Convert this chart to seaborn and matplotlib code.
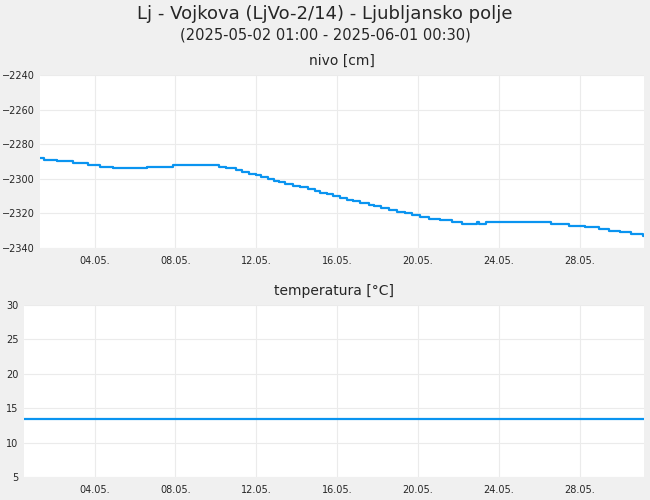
import matplotlib
matplotlib.use("Agg")
import matplotlib.pyplot as plt
import seaborn as sns
import pandas as pd

# step positions (pixel-like units along the time axis), and levels in cm
step_pos = [96, 105, 138, 177, 213, 242, 273, 355, 418, 528, 546, 568, 584, 600, 618, 630, 646, 660,
            673, 688, 706, 723, 742, 760, 771, 789, 804, 820, 836, 852, 869, 889, 902, 920, 938, 958,
            976, 994, 1014, 1034, 1060, 1090, 1114, 1150, 1154, 1172, 1328, 1373, 1410, 1445, 1468,
            1496, 1522, 1550, 1553]
nivo = [-2288, -2289, -2290, -2291, -2292, -2293, -2294, -2293, -2292, -2293, -2294, -2295, -2296,
        -2297, -2298, -2299, -2300, -2301, -2302, -2303, -2304, -2305, -2306, -2307, -2308, -2309,
        -2310, -2311, -2312, -2313, -2314, -2315, -2316, -2317, -2318, -2319, -2320, -2321, -2322,
        -2323, -2324, -2325, -2326, -2325, -2326, -2325, -2326, -2327, -2328, -2329, -2330, -2331,
        -2332, -2333, -2333]
temp_pos = [58, 1553]
temperatura = [13.5, 13.5]
tick_labels = ["04.05.", "08.05.", "12.05.", "16.05.", "20.05.", "24.05.", "28.05."]
tick_pos = [228, 423, 618, 813, 1008, 1203, 1398]

BG = "#f0f0f0"
LINE = "#0a94f0"
sns.set_style("white")
fig = plt.figure(figsize=(6.5, 5), dpi=100, facecolor=BG)
ax1 = fig.add_axes([40 / 650, 0.504, 604 / 650, 0.346])
ax2 = fig.add_axes([24 / 650, 0.046, 620 / 650, 0.344])

df1 = pd.DataFrame({"x": step_pos, "y": nivo})
df2 = pd.DataFrame({"x": temp_pos, "y": temperatura})
sns.lineplot(data=df1, x="x", y="y", ax=ax1, color=LINE, lw=1.6, drawstyle="steps-post")
sns.lineplot(data=df2, x="x", y="y", ax=ax2, color=LINE, lw=1.6)

for ax, xl, yl, yt, title in [(ax1, (96.5, 1553), (-2340, -2240), range(-2340, -2239, 20), "nivo [cm]"),
                              (ax2, (58, 1553), (5, 30), range(5, 31, 5), "temperatura [°C]")]:
    ax.set_facecolor("white")
    ax.set_xlim(*xl)
    ax.set_ylim(*yl)
    ax.set_yticks(list(yt))
    ax.set_xticks(tick_pos)
    ax.set_xticklabels(tick_labels)
    ax.grid(True, color="#ebebeb", lw=0.8)
    ax.tick_params(axis="x", labelsize=7, length=0, pad=6)
    ax.tick_params(axis="y", labelsize=7, length=0, pad=4)
    ax.set_xlabel("")
    ax.set_ylabel("")
    for s in ax.spines.values():
        s.set_visible(False)
    ax.set_title(title, fontsize=10, pad=7)

fig.text(0.5, 0.972, "Lj - Vojkova (LjVo-2/14) - Ljubljansko polje", ha="center", va="center", fontsize=13)
fig.text(0.5, 0.931, "(2025-05-02 01:00 - 2025-06-01 00:30)", ha="center", va="center", fontsize=10.5)
fig.savefig("out.png", dpi=100, facecolor=BG)
